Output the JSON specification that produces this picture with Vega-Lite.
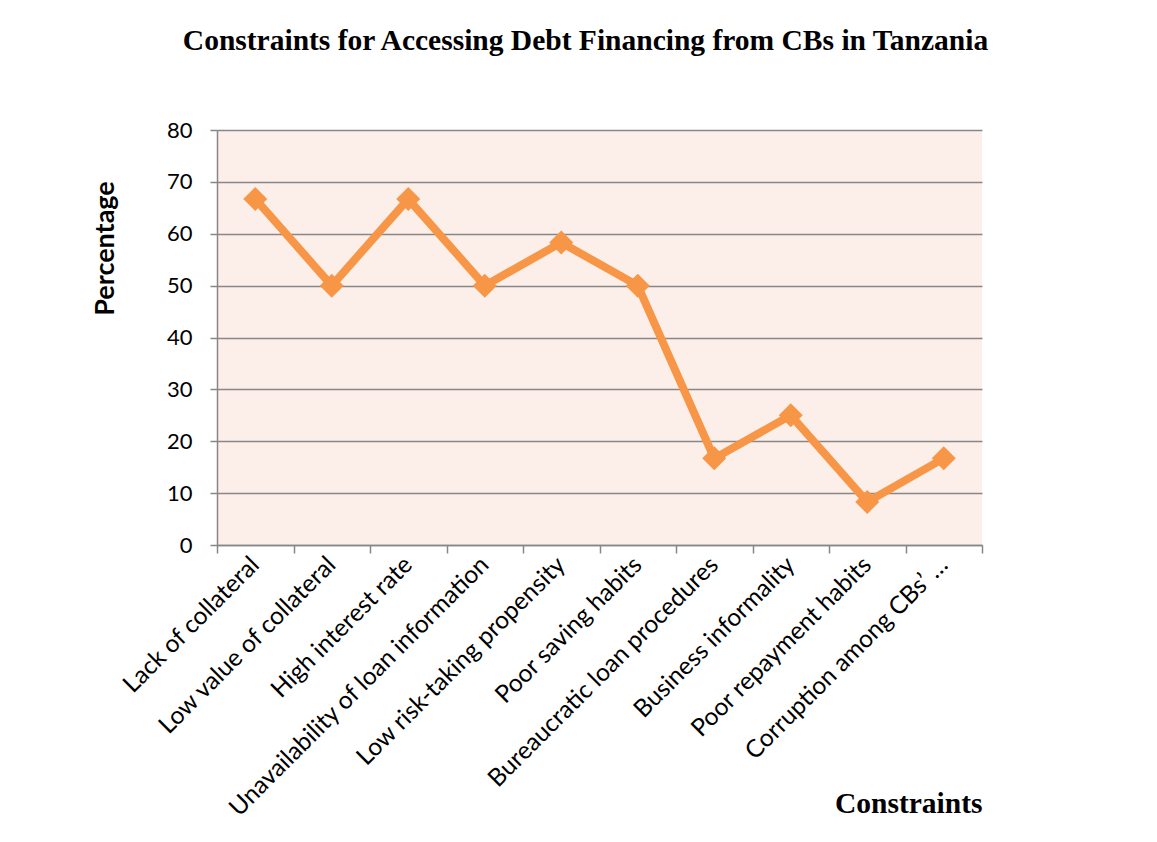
{
  "$schema": "https://vega.github.io/schema/vega-lite/v6.json",
  "width": 765,
  "height": 415,
  "autosize": {"type": "none"},
  "padding": {"left": 217, "top": 130, "right": 175, "bottom": 297},
  "background": "white",
  "title": {
    "text": "Constraints for Accessing Debt Financing from CBs in Tanzania",
    "font": "Liberation Serif",
    "fontSize": 29.5,
    "fontWeight": "bold",
    "color": "#000000",
    "anchor": "middle",
    "frame": "group",
    "dx": -14,
    "offset": 63
  },
  "config": {
    "view": {"fill": "#FCEEE9", "stroke": null},
    "axis": {"labelFont": "Lato", "titleFont": "Lato", "labelColor": "#000000", "titleColor": "#000000"}
  },
  "data": {
    "values": [
      {"constraint": "Lack of collateral", "percentage": 66.7},
      {"constraint": "Low value of collateral", "percentage": 50},
      {"constraint": "High interest rate", "percentage": 66.7},
      {"constraint": "Unavailability of loan information", "percentage": 50},
      {"constraint": "Low risk-taking propensity", "percentage": 58.3},
      {"constraint": "Poor saving habits", "percentage": 50},
      {"constraint": "Bureaucratic loan procedures", "percentage": 16.7},
      {"constraint": "Business informality", "percentage": 25},
      {"constraint": "Poor repayment habits", "percentage": 8.3},
      {"constraint": "Corruption among CBs’ …", "percentage": 16.7}
    ]
  },
  "encoding": {
    "x": {
      "field": "constraint",
      "type": "nominal",
      "sort": null,
      "scale": {"type": "band", "paddingInner": 0, "paddingOuter": 0},
      "axis": {
        "title": "Constraints",
        "titleFont": "Liberation Serif",
        "titleFontSize": 29.5,
        "titleFontWeight": "bold",
        "titleAnchor": "end",
        "titleAlign": "right",
        "titleBaseline": "alphabetic",
        "titleY": 267,
        "labelAngle": -45,
        "labelAlign": "right",
        "labelBaseline": "middle",
        "labelFontSize": 24.5,
        "labelPadding": 8,
        "labelLimit": 0,
        "tickBand": "extent",
        "tickSize": 8,
        "tickColor": "#878787",
        "tickWidth": 1.5,
        "domainColor": "#878787",
        "domainWidth": 1.5,
        "grid": false
      }
    },
    "y": {
      "field": "percentage",
      "type": "quantitative",
      "scale": {"domain": [0, 80], "nice": false},
      "axis": {
        "title": "Percentage",
        "titleFontSize": 27,
        "titleFontWeight": "bold",
        "titleAngle": -90,
        "titleBaseline": "alphabetic",
        "titleAlign": "center",
        "titleX": -104,
        "titleY": 118,
        "values": [0, 10, 20, 30, 40, 50, 60, 70, 80],
        "labelFontSize": 22,
        "labelPadding": 18,
        "tickSize": 7,
        "tickColor": "#878787",
        "tickWidth": 1.5,
        "domainColor": "#878787",
        "domainWidth": 1.5,
        "grid": true,
        "gridColor": "#878787",
        "gridWidth": 1.5
      }
    }
  },
  "layer": [
    {"mark": {"type": "line", "color": "#F79646", "strokeWidth": 8}},
    {"mark": {"type": "point", "shape": "diamond", "filled": true, "color": "#F79646", "opacity": 1, "size": 576}}
  ]
}
